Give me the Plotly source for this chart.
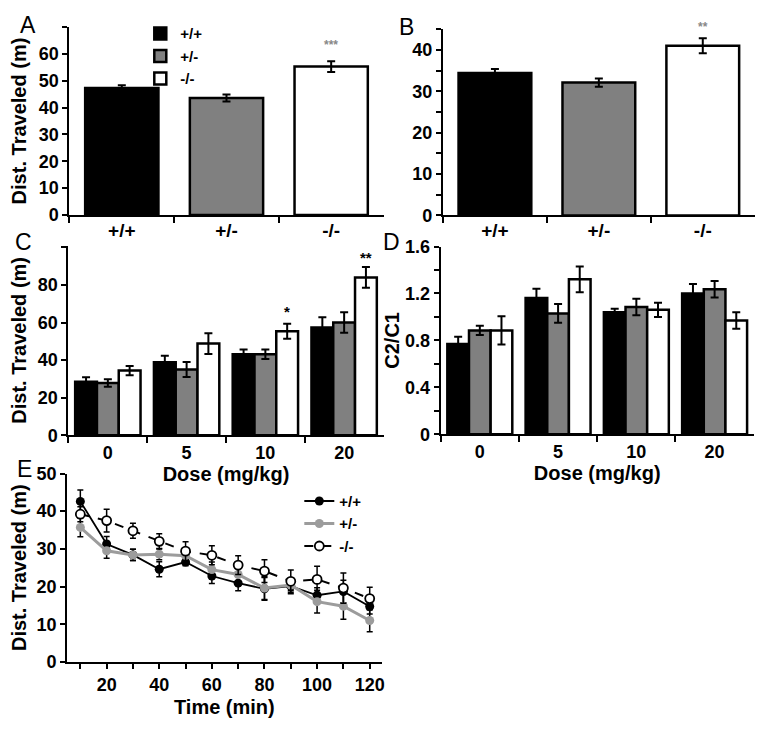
import plotly.graph_objects as go

# ---------------- data ----------------
genotypes = ['+/+', '+/-', '-/-']
colors = ['#000000', '#808080', '#ffffff']

# A: total distance
a_vals = [47.3, 43.6, 55.3]
a_err = [1.0, 1.3, 2.0]
# B: total distance (second test)
b_vals = [34.4, 32.1, 41.0]
b_err = [1.0, 1.0, 1.8]

# C: dose response
doses = ['0', '5', '10', '20']
c_wt = [28.4, 38.8, 43.1, 57.3]
c_wt_err = [2.5, 3.5, 2.5, 5.5]
c_het = [27.8, 35.0, 43.1, 60.0]
c_het_err = [2.0, 4.0, 2.5, 5.5]
c_ko = [34.4, 48.8, 55.3, 84.0]
c_ko_err = [2.5, 5.5, 4.0, 5.5]

# D: C2/C1 ratio
d_wt = [0.77, 1.16, 1.04, 1.20]
d_wt_err = [0.06, 0.08, 0.03, 0.08]
d_het = [0.885, 1.03, 1.085, 1.235]
d_het_err = [0.04, 0.08, 0.07, 0.07]
d_ko = [0.885, 1.32, 1.06, 0.97]
d_ko_err = [0.12, 0.11, 0.06, 0.07]

# E: time course
time_min = [10, 20, 30, 40, 50, 60, 70, 80, 90, 100, 110, 120]
e_wt = [42.6, 31.3, 28.4, 24.6, 26.5, 22.8, 20.9, 19.4, 20.1, 17.7, 18.7, 14.7]
e_wt_err = [3.0, 2.0, 1.5, 2.0, 1.0, 2.0, 2.0, 3.0, 2.0, 2.0, 3.0, 2.0]
e_het = [35.7, 29.5, 28.4, 28.6, 28.2, 24.5, 23.2, 19.6, 20.4, 16.0, 14.8, 11.0]
e_het_err = [2.5, 2.0, 1.5, 1.5, 1.5, 2.0, 2.0, 3.0, 1.5, 3.0, 3.5, 3.0]
e_ko = [39.2, 37.5, 34.8, 32.0, 29.4, 28.3, 25.7, 24.1, 21.4, 21.9, 19.6, 16.8]
e_ko_err = [2.0, 3.0, 2.0, 2.0, 2.5, 2.5, 2.5, 3.0, 3.0, 3.5, 4.0, 3.0]

# page body keeps its 8px margin on every side -> figure fits inside the window
OFF = 8
W, H = 770 - 2 * OFF, 731 - 2 * OFF
FONT = 'Liberation Sans, Arial, sans-serif'


def yy(t):
    # target screen y -> page y (small vertical correction seen in the screenshots)
    return (t - 8) / 0.975


def px_x(a, b):
    return [(a - OFF) / W, (b - OFF) / W]


def px_y(top, bottom):
    return [1 - (yy(bottom) - OFF) / H, 1 - (yy(top) - OFF) / H]


def pos(x, y):
    return (x - OFF) / W, 1 - (yy(y) - OFF) / H


fig = go.Figure()

# ---- A ----
for i, g in enumerate(genotypes):
    fig.add_trace(go.Bar(
        x=[g], y=[a_vals[i]], name=g, width=0.7, offsetgroup='a',
        marker=dict(color=colors[i], line=dict(color='black', width=2.5)),
        error_y=dict(type='data', array=[a_err[i]], color='black', thickness=2, width=4),
        xaxis='x', yaxis='y', legend='legend'))

# ---- B ----
for i, g in enumerate(genotypes):
    fig.add_trace(go.Bar(
        x=[g], y=[b_vals[i]], name=g, width=0.7, offsetgroup='b', showlegend=False,
        marker=dict(color=colors[i], line=dict(color='black', width=2.5)),
        error_y=dict(type='data', array=[b_err[i]], color='black', thickness=2, width=4),
        xaxis='x2', yaxis='y2'))

# ---- C ----
for vals, errs, col, g in [(c_wt, c_wt_err, colors[0], genotypes[0]),
                           (c_het, c_het_err, colors[1], genotypes[1]),
                           (c_ko, c_ko_err, colors[2], genotypes[2])]:
    fig.add_trace(go.Bar(
        x=doses, y=vals, name=g, showlegend=False,
        marker=dict(color=col, line=dict(color='black', width=2.5)),
        error_y=dict(type='data', array=errs, color='black', thickness=2, width=4),
        xaxis='x3', yaxis='y3'))

# ---- D ----
for vals, errs, col, g in [(d_wt, d_wt_err, colors[0], genotypes[0]),
                           (d_het, d_het_err, colors[1], genotypes[1]),
                           (d_ko, d_ko_err, colors[2], genotypes[2])]:
    fig.add_trace(go.Bar(
        x=doses, y=vals, name=g, showlegend=False,
        marker=dict(color=col, line=dict(color='black', width=2.5)),
        error_y=dict(type='data', array=errs, color='black', thickness=2, width=4),
        xaxis='x4', yaxis='y4'))

# ---- E ----
fig.add_trace(go.Scatter(
    x=time_min, y=e_wt, name='+/+', mode='lines+markers',
    line=dict(color='black', width=1.8),
    marker=dict(color='black', size=9),
    error_y=dict(type='data', array=e_wt_err, color='black', thickness=1.5, width=3),
    xaxis='x5', yaxis='y5', legend='legend2', legendrank=1))
fig.add_trace(go.Scatter(
    x=time_min, y=e_het, name='+/-', mode='lines+markers',
    line=dict(color='#9c9c9c', width=3),
    marker=dict(color='#9c9c9c', size=9),
    error_y=dict(type='data', array=e_het_err, color='black', thickness=1.5, width=3),
    xaxis='x5', yaxis='y5', legend='legend2', legendrank=2))
fig.add_trace(go.Scatter(
    x=time_min, y=e_ko, name='-/-', mode='lines+markers',
    line=dict(color='black', width=2, dash='dash'),
    marker=dict(color='white', size=9, line=dict(color='black', width=1.8)),
    error_y=dict(type='data', array=e_ko_err, color='black', thickness=1.5, width=3),
    xaxis='x5', yaxis='y5', legend='legend2', legendrank=3))

ax = dict(showline=True, linecolor='black', linewidth=2, ticks='outside', ticklen=5,
          tickwidth=2, tickcolor='black', showgrid=False, zeroline=False,
          tickfont=dict(size=18, family=FONT, weight='bold'))
cat = dict(ax, type='category', tickson='boundaries', ticklen=6,
           tickfont=dict(size=19, family=FONT, weight='bold'))
minor_tk = dict(ticks='outside', ticklen=5, tickwidth=2, tickcolor='black')
title_font = dict(size=20, family=FONT, weight='bold')

fig.update_layout(
    width=W, height=H, margin=dict(l=0, r=0, t=0, b=0),
    plot_bgcolor='white', paper_bgcolor='white',
    font=dict(family=FONT, color='black', size=16, weight='bold'),
    barmode='group', bargap=0.17, bargroupgap=0,
    xaxis=dict(cat, domain=px_x(66, 383), anchor='y', ticklabelstandoff=-3),
    yaxis=dict(ax, domain=px_y(25, 213.3), anchor='x', range=[0, 70],
               tickvals=[0, 10, 20, 30, 40, 50, 60, 70],
               ticktext=['0', '10', '20', '30', '40', '50', '60', ''],
               title=dict(text='Dist. Traveled (m)', font=title_font)),
    xaxis2=dict(cat, domain=px_x(443, 757.7), anchor='y2', ticklabelstandoff=-3),
    yaxis2=dict(ax, domain=px_y(27, 213.8), anchor='x2', range=[0, 45],
                tickvals=[0, 10, 20, 30, 40],
                minor=dict(minor_tk, tickvals=[5, 15, 25, 35, 45])),
    xaxis3=dict(cat, domain=px_x(65, 383), anchor='y3',
                tickfont=dict(size=18, family=FONT, weight='bold'),
                title=dict(text='Dose (mg/kg)', font=title_font, standoff=5)),
    yaxis3=dict(ax, domain=px_y(244, 434.3), anchor='x3', range=[0, 101],
                tickvals=[0, 20, 40, 60, 80, 100],
                ticktext=['0', '20', '40', '60', '80', ''],
                title=dict(text='Dist. Traveled (m)', font=title_font)),
    xaxis4=dict(cat, domain=px_x(440.7, 756.7), anchor='y4',
                tickfont=dict(size=18, family=FONT, weight='bold'),
                title=dict(text='Dose (mg/kg)', font=title_font, standoff=5)),
    yaxis4=dict(ax, domain=px_y(245, 433.3), anchor='x4', range=[0, 1.6],
                tickvals=[0, 0.4, 0.8, 1.2, 1.6],
                ticktext=['0', '0.4', '0.8', '1.2', '1.6'],
                minor=dict(minor_tk, tickvals=[0.2, 0.6, 1.0, 1.4]),
                title=dict(text='C2/C1', font=title_font, standoff=0)),
    xaxis5=dict(ax, domain=px_x(63.7, 381), anchor='y5', range=[5, 124.5],
                tickvals=[20, 40, 60, 80, 100, 120],
                minor=dict(minor_tk, tickvals=[10, 30, 50, 70, 90, 110]),
                title=dict(text='Time (min)', font=title_font, standoff=6)),
    yaxis5=dict(ax, domain=px_y(472.7, 661.7), anchor='x5', range=[0, 50],
                tickvals=[0, 10, 20, 30, 40, 50],
                title=dict(text='Dist. Traveled (m)', font=title_font)),
    legend=dict(x=pos(137.5, 15)[0], y=pos(137.5, 15)[1], xanchor='left', yanchor='top',
                bgcolor='rgba(0,0,0,0)', font=dict(size=15, family=FONT, weight='bold'),
                tracegroupgap=0, itemwidth=30),
    legend2=dict(x=pos(298, 484)[0], y=pos(298, 484)[1], xanchor='left', yanchor='top',
                 bgcolor='rgba(0,0,0,0)', font=dict(size=15, family=FONT, weight='bold'),
                 tracegroupgap=0),
)

ann = [
    dict(text='***', x='-/-', y=63.3, xref='x', yref='y', font=dict(color='#888888', size=12)),
    dict(text='**', x='-/-', y=44.9, yshift=3, xref='x2', yref='y2',
         font=dict(color='#888888', size=12)),
    dict(text='*', x=2.277, y=66, xref='x3', yref='y3', font=dict(color='black', size=15)),
    dict(text='**', x=3.277, y=94.5, xref='x3', yref='y3', font=dict(color='black', size=15)),
]
for text, x, y in [('A', 24, 23), ('B', 406.5, 25), ('C', 20, 240),
                   ('D', 391.5, 240.5), ('E', 20.5, 468.5)]:
    px, py = pos(x, y)
    ann.append(dict(text=text, x=px, y=py, xref='paper', yref='paper',
                    xanchor='center', yanchor='middle',
                    font=dict(size=23, weight='normal')))
for a in ann:
    a.update(showarrow=False)
fig.update_layout(annotations=ann)

fig.write_html("out.html")
